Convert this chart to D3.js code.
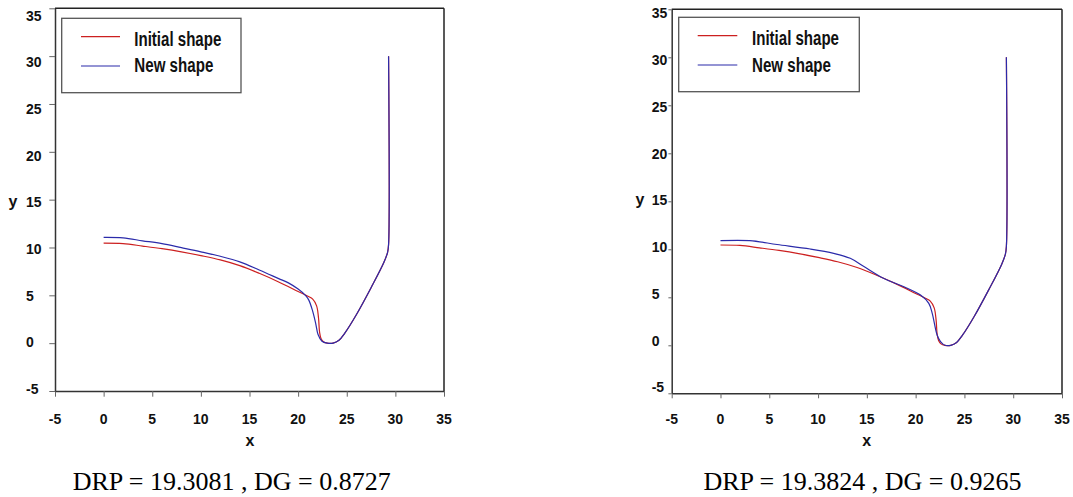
<!DOCTYPE html>
<html><head><meta charset="utf-8">
<script src="https://cdn.jsdelivr.net/npm/d3@7"></script>
<style>
body{margin:0;background:#fff;}
svg{display:block;}
</style></head><body>
<svg id="c" width="1073" height="497"></svg>
<script>
// ---- data ----
const xTicks = [-5, 0, 5, 10, 15, 20, 25, 30, 35];
const yTicks = [-5, 0, 5, 10, 15, 20, 25, 30, 35];
const seriesNames = ["Initial shape", "New shape"];
const captions = ["DRP = 19.3081 , DG = 0.8727", "DRP = 19.3824 , DG = 0.9265"];

const initialX = [0, 2, 4, 6, 8, 10, 12, 14, 16, 18, 20, 21, 21.5, 21.9, 22.1, 22.2, 22.35, 22.6, 23.0, 23.6, 24.2, 24.8, 26, 27.5, 28.8, 29.2, 29.3, 29.3];
const initialY = [10.45, 10.4, 10.15, 9.88, 9.55, 9.15, 8.7, 8.1, 7.3, 6.4, 5.4, 4.9, 4.6, 3.9, 2.6, 1.2, 0.5, 0.15, 0, 0, 0.3, 1.05, 3.0, 5.8, 8.4, 9.5, 10.3, 30];

const newX1 = [0, 2, 4, 6, 8, 10, 12, 14, 16, 18, 19, 20, 20.8, 21.1, 21.45, 21.8, 22.05, 22.45, 23.0, 23.6, 24.2, 24.8, 26, 27.5, 28.8, 29.2, 29.3, 29.3];
const newY1 = [11.05, 11.0, 10.7, 10.4, 9.98, 9.55, 9.08, 8.5, 7.65, 6.75, 6.3, 5.65, 4.95, 4.5, 3.5, 2.1, 0.9, 0.2, 0, 0, 0.3, 1.05, 3.0, 5.8, 8.4, 9.5, 10.3, 30];

const newX2 = [0, 3, 5.8, 9.2, 11.6, 13.3, 14.7, 16.7, 18.8, 20.5, 21.35, 21.7, 22.2, 22.55, 23.0, 23.6, 24.2, 24.8, 26, 27.5, 28.8, 29.2, 29.3, 29.3];
const newY2 = [10.9, 10.9, 10.5, 10.03, 9.58, 9.06, 8.2, 6.98, 6.1, 5.24, 4.37, 3.33, 1.07, 0.38, 0, 0, 0.3, 1.05, 3.0, 5.8, 8.4, 9.5, 10.3, 30];

// ---- layout ----
const panels = [
  {x0: 55, x1: 444, y0: 391, y1: 8.3, ylabX: 26, ylabRange: [389, 15.7], yTickLen: 5.7, xTickLen: 5.7,
   yTitle: [13, 202], xTitle: [250, 446],
   legend: {x: 61.7, y: 18.3, w: 179.3, h: 74.4, lx0: 81, lx1: 120, ly: [36.7, 66], tx: 134.3, tb: [45.7, 72.3]},
   cap: [231.7, 490], nx: newX1, ny: newY1, caption: captions[0]},
  {x0: 671.7, x1: 1062, y0: 393.3, y1: 9.3, ylabX: 651.7, ylabRange: [387.3, 13.3], yTickLen: 3.3, xTickLen: 5,
   yTitle: [640, 200], xTitle: [866.7, 446],
   legend: {x: 678.7, y: 17.3, w: 180.6, h: 74.4, lx0: 697.7, lx1: 737.3, ly: [35.7, 65], tx: 752, tb: [45, 71.7]},
   cap: [862.5, 490], nx: newX2, ny: newY2, caption: captions[1]}
];
const legendTextLen = [87, 79];

const svg = d3.select("#c");
const tickFont = "'Liberation Sans', Arial, sans-serif";
const colors = ["#cc2020", "#2b2baa"];

panels.forEach(p => {
  const g = svg.append("g");
  const x = d3.scaleLinear().domain([-5, 35]).range([p.x0, p.x1]);
  const y = d3.scaleLinear().domain([-5, 35]).range([p.y0, p.y1]);
  const yLab = d3.scaleLinear().domain([-5, 35]).range(p.ylabRange);

  // frame top/right
  g.append("line").attr("x1", p.x0).attr("x2", p.x1).attr("y1", p.y1).attr("y2", p.y1)
    .attr("stroke", "#222").attr("stroke-width", 1.5);
  g.append("line").attr("x1", p.x1).attr("x2", p.x1).attr("y1", p.y1).attr("y2", p.y0)
    .attr("stroke", "#222").attr("stroke-width", 1.5);

  // axes
  const xa = g.append("g").attr("transform", `translate(0,${p.y0})`)
    .call(d3.axisBottom(x).tickValues(xTicks).tickSize(p.xTickLen).tickSizeOuter(0).tickFormat(""));
  const ya = g.append("g").attr("transform", `translate(${p.x0},0)`)
    .call(d3.axisLeft(y).tickValues(yTicks).tickSize(p.yTickLen).tickSizeOuter(0).tickFormat(""));
  [xa, ya].forEach(a => {
    a.select(".domain").attr("stroke", "#333").attr("stroke-width", 1.5);
    a.selectAll(".tick line").attr("stroke", "#666").attr("stroke-width", 1);
  });

  // tick labels
  g.selectAll(".xl").data(xTicks).enter().append("text")
    .attr("x", d => x(d)).attr("y", 423.5).attr("text-anchor", "middle")
    .attr("font-family", tickFont).attr("font-weight", "bold").attr("font-size", 14)
    .attr("fill", "#111").text(d => d);
  g.selectAll(".yl").data(yTicks).enter().append("text")
    .attr("x", p.ylabX).attr("y", d => yLab(d)).attr("dy", "0.36em").attr("text-anchor", "start")
    .attr("font-family", tickFont).attr("font-weight", "bold").attr("font-size", 14)
    .attr("fill", "#111").text(d => d);

  // axis titles
  g.append("text").attr("x", p.xTitle[0]).attr("y", p.xTitle[1]).attr("text-anchor", "middle")
    .attr("font-family", tickFont).attr("font-weight", "bold").attr("font-size", 16).attr("fill", "#111").text("x");
  g.append("text").attr("x", p.yTitle[0]).attr("y", p.yTitle[1]).attr("dy", "0.3em").attr("text-anchor", "middle")
    .attr("font-family", tickFont).attr("font-weight", "bold").attr("font-size", 16).attr("fill", "#111").text("y");

  // lines
  const line = d3.line().x(d => x(d[0])).y(d => y(d[1])).curve(d3.curveCatmullRom.alpha(0.5));
  const sets = [d3.zip(initialX, initialY), d3.zip(p.nx, p.ny)];
  sets.forEach((s, i) => {
    g.append("path").datum(s).attr("d", line).attr("fill", "none")
      .attr("stroke", colors[i]).attr("stroke-width", 1.2);
  });

  // legend
  const L = p.legend;
  g.append("rect").attr("x", L.x).attr("y", L.y).attr("width", L.w).attr("height", L.h)
    .attr("fill", "#fff").attr("stroke", "#555").attr("stroke-width", 1.3);
  seriesNames.forEach((n, i) => {
    g.append("line").attr("x1", L.lx0).attr("x2", L.lx1).attr("y1", L.ly[i]).attr("y2", L.ly[i])
      .attr("stroke", colors[i]).attr("stroke-width", 1.2);
    g.append("text").attr("x", L.tx).attr("y", L.tb[i])
      .attr("font-family", tickFont).attr("font-weight", "bold").attr("font-size", 20)
      .attr("textLength", legendTextLen[i]).attr("lengthAdjust", "spacingAndGlyphs")
      .attr("fill", "#111").text(n);
  });

  // caption
  g.append("text").attr("x", p.cap[0]).attr("y", p.cap[1]).attr("text-anchor", "middle")
    .attr("font-family", "'Liberation Serif', 'Times New Roman', serif").attr("font-size", 26)
    .attr("fill", "#000").text(p.caption);
});
</script>
</body></html>
